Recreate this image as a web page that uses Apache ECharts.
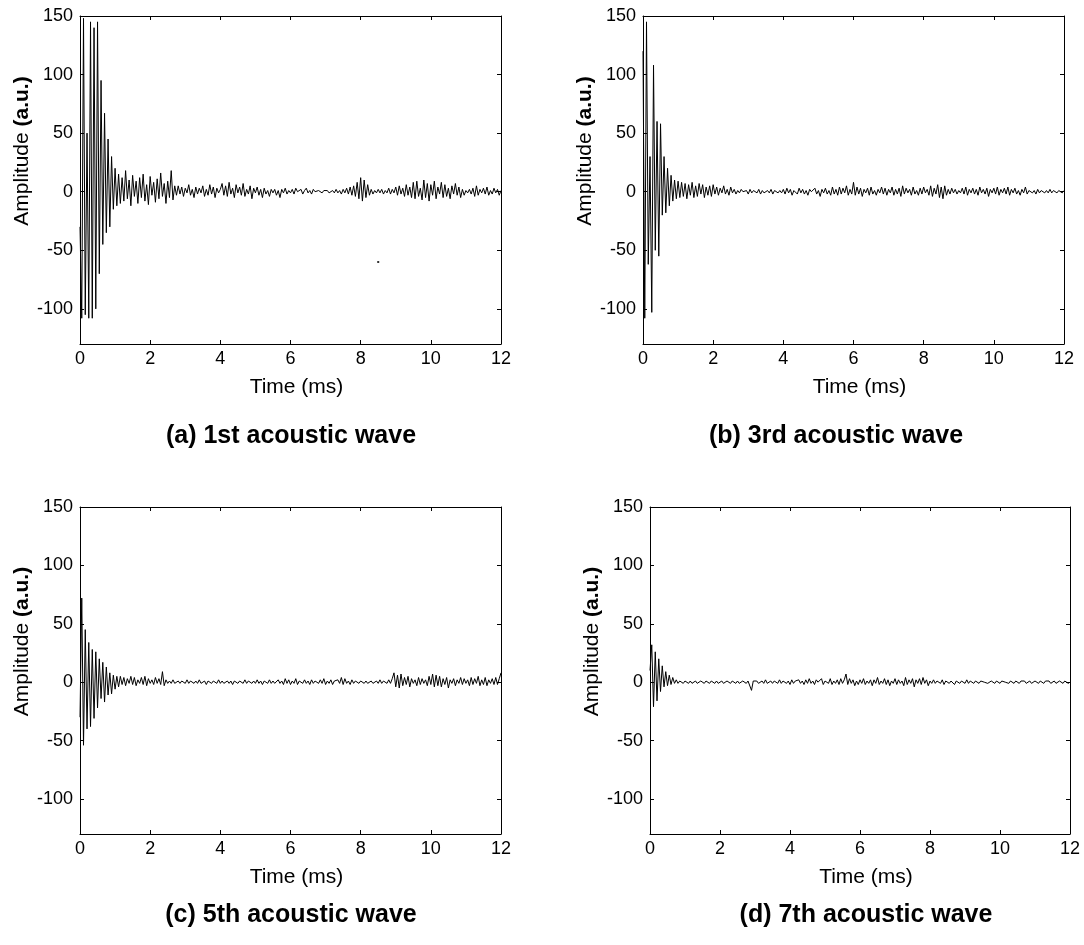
<!DOCTYPE html>
<html><head><meta charset="utf-8">
<script src="https://cdn.jsdelivr.net/npm/echarts@6/dist/echarts.min.js"></script>
<style>html,body{margin:0;padding:0;background:#fff}#c{width:1084px;height:945px}</style>
</head><body><div id="c"></div>
<script>
// ---- data (amplitude in a.u., samples evenly spaced over 0..12 ms) ----
const xTicks = [0, 2, 4, 6, 8, 10, 12];
const yTicks = [-100, -50, 0, 50, 100, 150];
const panelTitles = ['(a) 1st acoustic wave', '(b) 3rd acoustic wave', '(c) 5th acoustic wave', '(d) 7th acoustic wave'];
const xName = 'Time (ms)';

const wave1 = [
  -30, -108, 148, -105, 50, -108, 145, -108, 140, -100, 145, -70, 95, -45, 67, -35, 45, -30, 30, -15, 20, -12, 15, -10,
  12, -8, 18, -6, 10, -12, 14, -4, 9, -10, 12, -5, 15, -8, 6, -11, 13, -3, 8, -9, 11, -6, 16, -4, 7, -10, 9, -5, 18, -7, 5,
  -3, 5, -2, 4, -4, 3, -1, 6, -3, 2, -5, 4, -2, 3, -1, 5, -4, 2, -3, 6, -2, 4, -5, 3, -1, 2,
  7, -3, 5, -4, 8, -2, 3, -5, 6, -1, 4, -3, 7, -4, 2, -2, 5, -6, 3, -1, 4, -3, 2, -5, 3, -2, 1, -4, 2, -1,
  2, -3, 1, -5, 2, -1, 3, -2, 1, -1, 2, -2, 3, 0, -1, 2, -2, 1, 3, -1, 1, -2, 2, 0, -1, 1, 0, -1, 1, 0, 1, -1, 0, 1, -1, 2, -1, 1, -2, 2, -1, 3, -2, 4, -3,
  5, -4, 8, -6, 12, -8, 10, -5, 6, -3, 2, -2, 1, -1, 2,
  -1, 2, -2, 1, -1, 3, -2, 2, -1, 4, -3, 5, -2, 3, -4,
  6, -3, 4, -5, 8, -6, 9, -4, 3, -7, 10, -5, 7, -8, 6, -3, 9, -6, 4, -2, 8, -5, 6, -4, 3, -6, 5, -2, 7, -3,
  4, -5, 2, -3, 1, -1, 2, -2, 3, -4, 5, -3, 2, -1, 3, -2, 4, -3, 1, -2, 3, -1, 2, -3, 1
];
const wave1Stray = [[8.5, -60]];

const wave3 = [
  120, -108, 145, -62, 30, -103, 108, -50, 60, -55, 58, -20, 30, -18, 20, -12, 14, -8, 10, -6,
  9, -5, 8, -4, 7, -6, 6, -3, 8, -5, 5, -4, 7, -2, 6, -5, 4, -3, 5, -4, 6,
  -2, 4, -3, 3, -1, 5, -2, 2, -3, 4, -1, 2, -2, 1, -1, 2, 0, -1, 1, -2, 2, -1, 1, 0, -1, 2, -2, 1, -1, 0, 1, -1, 2, -2, 1, 0, -1, 1, -1, 2,
  -2, 3, -1, 2, -3, 1, 0, -2, 3, -1, 2, -2, 1, -3, 2, 0, -1, 3, -2, 1, -4, 2, -1, 3, -2, 1, -3, 4, -2, 2,
  -3, 4, -2, 3, -1, 5, -3, 2, -2, 8, -3, 4, -2, 3, -4, 2, -1, 3, -3, 4, -2, 1, -3, 2, -1, 4, -2, 3, -3, 2,
  -1, 4, -3, 2, -2, 3, -4, 5, -2, 3, -1, 2, -3, 4, -2, 1, -3, 3, -2, 4, -1, 2, -3, 5, -4, 3, -2, 6, -5, 4,
  -6, 5, -3, 2, -2, 3, -1, 2, -2, 1, -1, 3, -2, 4, -3, 2, -1, 3, -2, 2, -3, 4, -1, 2, -2, 3, -4, 2, -1, 3, -2, 4, -3, 2, -1,
  3, -2, 4, -3, 2, -1, 3, -2, 1, -3, 2, -1, 4, -2, 1, 0, -1, 1, -2, 2, -1, 1, 0, -1, 1, -1, 2, -1, 1, 0, -1, 1, 0, -1, 1
];

const wave5 = [
  -30, 72, -54, 45, -40, 34, -38, 28, -31, 26, -22, 20, -14, 17, -17, 13, -11, 8, -10, 6, -6, 5,
  -4, 5, -2, 4, -3, 3, -1, 5, -2, 4, -3, 2, -1, 4, -2, 5, -3, 3, -1, 2, -2, 4, -1, 3, -2, 9, -3, 2, -1,
  1, -1, 2, -1, 0, 1, -1, 1, 0, -1, 2, -1, 1, 0, -1, 1, -1, 2, -1, 0, 1, -2, 1, 0, -1, 1, 0, -1, 2, -1, 1, -1, 0, 1, -1, 1, -2, 1, 0, -1, 1, 0, -1, 2, -1, 1, 0, -1, 1, -1,
  2, -1, 1, -2, 1, 0, -1, 2, -1, 1, -1, 0, 2, -1, 1, -2, 3, -1, 2, -2, 1, -1, 3, -2, 1, 0, -1, 2, -1, 1, -2, 2, -1, 1, 0, -1, 2, -1, 3, -2, 1, -1, 2, -2, 1, 0, 2, -1, 4, -2, 3, -1, 1, -2, 2, -1, 1, 0, -1, 1, 0, -1, 1, -1, 0, 1, -1, 0, 1, -1, 2, -1, 1, 0, -1,
  2, -1, 3, 8, -4, 6, -5, 7, -3, 4, -2, 5, -4, 3, -1, 2, -3, 4, -2, 3, -1, 2, -3, 5, -2, 7, -4, 6, -3, 5, -4, 3, -2, 4, -5, 2, -1, 3, -3, 2, -1, 4, -2, 3, -1, 2, -3, 4, -2, 3, -1, 5, -3, 2, -2, 4, -3, 2, -1, 3, -2, 4, -2, 3, 8
];

const wave7 = [
  10, 32, -21, 26, -16, 20, -8, 14, -4, 9, -3, 6, -2, 4,
  -1, 2, -1, 1, 0, -1, 1, 0, -1, 1, -1, 0, 1, -1, 0, 1, 0, -1, 1, 0, -1, 1, 0, -1, 1, -1, 0, 1, -1, 0, 1, 0, -1, 1, 0, -1, 1, -1, 0, 1, 0, -1, 1, 0, -7, 1, 0,
  1, -1, 0, 1, -1, 2, -1, 0, 1, -1, 1, 0, -1, 2, -1, 1, 0, -1, 1, -2, 2, -1, 1, 0, 2, -1, 1, -2, 2, -1, 3, -1, 1, -2, 2, 0, -1, 3, -2, 1,
  2, -1, 3, -2, 1, -1, 2, -2, 3, -1, 2, 7, -2, 3, -1, 2, -3, 1, -2, 2, -1, 3, -2, 1, -1, 2, -3, 2, -1, 4, -2, 1, -1, 3, -2, 2, -3, 1, -1, 3, -2, 2, -1, 1, -3, 4, -2, 2, -1, 3, -4, 2, -1, 3, -2, 4, -1, 2, -3, 1, -1, 2, -1, 1, 0, -1, 2, -2, 1, 0,
  -1, 1, 0, -2, 1, 0, -1, 1, 0, -1, 2, -1, 1, 0, -1, 1, 0, -1, 1, 0, 0, 1, -1, 0, 1, 0, -1, 1, 0, -1, 1, 0, 0, 1, -1, 1, 0, -1, 1, 0, -1, 1, 0, 1, -1, 0, 1, -1, 0, 1, 0, -1, 1, 0, -1, 1, 0, 1, -1, 0, 1, -1, 0, 1, 0, -1, 1, 2, -1, 0
];

const T_MAX = 12;
function toPairs(vals) {
  const n = vals.length;
  return vals.map((v, i) => [i * T_MAX / (n - 1), v]);
}

// ---- layout / style ----
const FONT = '"Liberation Sans", Arial, Helvetica, sans-serif';
const panels = [
  { grid: { left: 80, top: 16, width: 421, height: 328 }, data: wave1, title: panelTitles[0], tx: 291, ty: 424 },
  { grid: { left: 643, top: 16, width: 421, height: 328 }, data: wave3, title: panelTitles[1], tx: 836, ty: 424 },
  { grid: { left: 80, top: 507, width: 421, height: 327 }, data: wave5, title: panelTitles[2], tx: 291, ty: 903 },
  { grid: { left: 650, top: 507, width: 420, height: 327 }, data: wave7, title: panelTitles[3], tx: 866, ty: 903 }
];

const grids = [], xAxes = [], yAxes = [], series = [], titles = [];
panels.forEach((p, i) => {
  grids.push(Object.assign({ containLabel: false }, p.grid));
  const lineCol = '#000';
  // bottom x axis
  xAxes.push({
    type: 'value', gridIndex: i, min: 0, max: T_MAX, position: 'bottom',
    name: xName, nameLocation: 'middle', nameGap: 33,
    nameTextStyle: { fontFamily: FONT, fontSize: 21, color: '#000', padding: [0, 0, 0, 12] },
    axisLine: { show: true, onZero: false, lineStyle: { color: lineCol, width: 1 } },
    axisTick: { show: true, inside: true, length: 4, customValues: xTicks, lineStyle: { color: lineCol } },
    axisLabel: { customValues: xTicks, fontFamily: FONT, fontSize: 18, color: '#000', margin: 6 },
    splitLine: { show: false }
  });
  // top x axis (box)
  xAxes.push({
    type: 'value', gridIndex: i, min: 0, max: T_MAX, position: 'top',
    axisLine: { show: true, onZero: false, lineStyle: { color: lineCol, width: 1 } },
    axisTick: { show: true, inside: true, length: 4, customValues: xTicks, lineStyle: { color: lineCol } },
    axisLabel: { show: false }, splitLine: { show: false }
  });
  // left y axis
  yAxes.push({
    type: 'value', gridIndex: i, min: -130, max: 150, position: 'left',
    name: '{n|Amplitude }{b|(a.u.)}', nameLocation: 'middle', nameGap: 44, nameRotate: 90,
    nameTextStyle: {
      color: '#000', padding: [0, 0, 0, 58],
      rich: {
        n: { fontFamily: FONT, fontSize: 21, color: '#000' },
        b: { fontFamily: FONT, fontSize: 21, fontWeight: 'bold', color: '#000' }
      }
    },
    axisLine: { show: true, onZero: false, lineStyle: { color: lineCol, width: 1 } },
    axisTick: { show: true, inside: true, length: 4, customValues: yTicks, lineStyle: { color: lineCol } },
    axisLabel: { customValues: yTicks, fontFamily: FONT, fontSize: 18, color: '#000', margin: 7 },
    splitLine: { show: false }
  });
  // right y axis (box)
  yAxes.push({
    type: 'value', gridIndex: i, min: -130, max: 150, position: 'right',
    axisLine: { show: true, onZero: false, lineStyle: { color: lineCol, width: 1 } },
    axisTick: { show: true, inside: true, length: 4, customValues: yTicks, lineStyle: { color: lineCol } },
    axisLabel: { show: false }, splitLine: { show: false }
  });
  series.push({
    type: 'line', xAxisIndex: 2 * i, yAxisIndex: 2 * i,
    data: toPairs(p.data), showSymbol: false, symbol: 'none', sampling: null,
    lineStyle: { color: '#000', width: 1 }, silent: true
  });
  titles.push({
    text: p.title, left: p.tx, top: p.ty, textAlign: 'center', padding: 0,
    textStyle: { fontFamily: FONT, fontSize: 25, fontWeight: 'bold', color: '#000' }
  });
});
series.push({
  type: 'scatter', xAxisIndex: 0, yAxisIndex: 0, data: wave1Stray,
  symbol: 'rect', symbolSize: 2, itemStyle: { color: '#000' }, silent: true
});

const chart = echarts.init(document.getElementById('c'), null, { renderer: 'canvas' });
chart.setOption({
  animation: false,
  backgroundColor: '#fff',
  title: titles,
  grid: grids,
  xAxis: xAxes,
  yAxis: yAxes,
  series: series
});
</script>
</body></html>
